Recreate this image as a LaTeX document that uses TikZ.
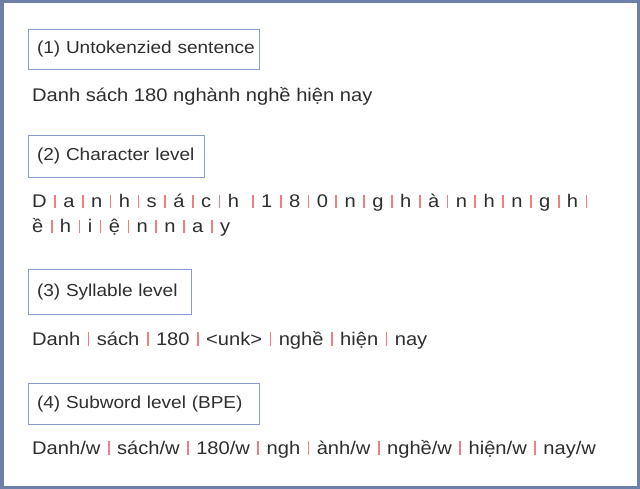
\documentclass[tikz,border=0pt]{standalone}
\usepackage{fontspec}
\setmainfont{Liberation Sans}[FakeStretch=1.1]
\definecolor{framec}{HTML}{6E80A8}
\definecolor{boxc}{HTML}{8A9BCB}
\definecolor{sepc}{HTML}{EF8080}
\definecolor{txtc}{HTML}{2E2E2E}
\newcommand\sepbar{\hspace{7.45pt}{\color{sepc}\rule[-0.5pt]{1.7pt}{13.5pt}}\hspace{7.45pt}}
\newcommand\lastbar{\hspace{7.45pt}{\color{sepc}\rule[-0.5pt]{1.7pt}{13.5pt}}}
\newcommand\lbltext[1]{\mbox{\hspace{1.5pt}\raisebox{-2pt}{#1}}}
\begin{document}
\begin{tikzpicture}[x=1pt,y=-1pt,
  lbl/.style={draw=boxc, line width=1pt, anchor=north west, inner xsep=7pt, inner ysep=0pt,
    align=left, font=\fontsize{17.3}{20}\selectfont, text=txtc},
  body/.style={anchor=base west, inner sep=0pt, font=\fontsize{18.3}{22}\selectfont, text=txtc}]
\useasboundingbox (0,0) rectangle (640,489);
\draw[framec, line width=3.5pt] (1.75,1.75) rectangle (638.25,487.25);

\node[lbl, text width=217pt, minimum height=40pt] (l1) at (28,29) {\lbltext{(1) Untokenzied sentence}};
\node[body] (t1) at (32,101.7) {Danh sách 180 nghành nghề hiện nay};

\node[lbl, text width=162pt, minimum height=42pt] (l2) at (28,135) {\lbltext{(2) Character level}};
\node[body] (t2a) at (32,208) {D\sepbar a\sepbar n\sepbar h\sepbar s\sepbar á\sepbar c\sepbar h \sepbar 1\sepbar 8\sepbar 0\sepbar n\sepbar g\sepbar h\sepbar à\sepbar n\sepbar h\sepbar n\sepbar g\sepbar h\lastbar};
\node[body] (t2b) at (32,233) {ề\sepbar h\sepbar i\sepbar ệ\sepbar n\sepbar n\sepbar a\sepbar y};

\node[lbl, text width=149pt, minimum height=45pt] (l3) at (28,269) {\lbltext{(3) Syllable level}};
\node[body] (t3) at (32,345) {Danh\sepbar sách\sepbar 180\sepbar <unk>\sepbar nghề\sepbar hiện\sepbar nay};

\node[lbl, text width=217pt, minimum height=41pt] (l4) at (28,383) {\lbltext{(4) Subword level (BPE)}};
\node[body] (t4) at (32,454) {Danh/w\sepbar sách/w\sepbar 180/w\sepbar ngh\sepbar ành/w\sepbar nghề/w\sepbar hiện/w\sepbar nay/w};
\end{tikzpicture}
\end{document}
